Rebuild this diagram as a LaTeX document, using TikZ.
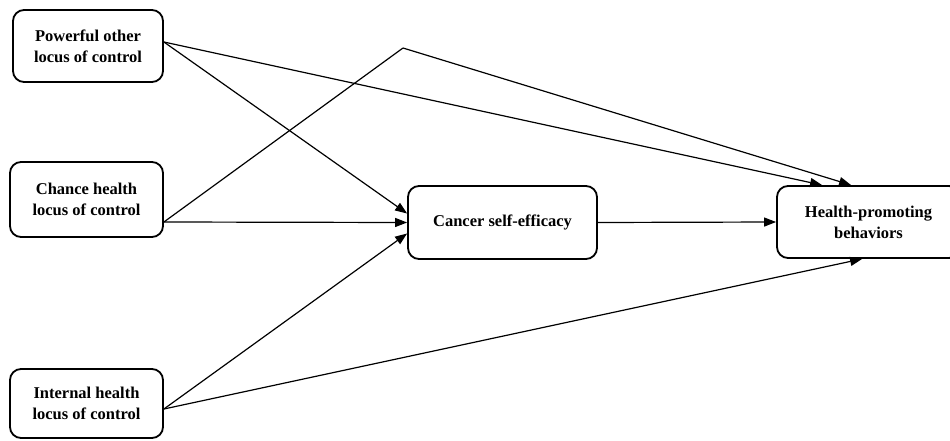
\documentclass[tikz,border=0pt]{standalone}
\usepackage{fontspec}
\setmainfont{Liberation Serif}
\usetikzlibrary{arrows.meta,calc}
\begin{document}
\begin{tikzpicture}[x=1pt,y=-1pt,
  box/.style={draw,line width=1.8pt,rounded corners=11pt,align=center,inner sep=0pt,
    font=\fontsize{16.5}{21}\selectfont\bfseries},
  link/.style={line width=1.2pt,-{Triangle[length=12pt,width=9pt]}},
  seg/.style={line width=1.2pt}]
\useasboundingbox (0,0) rectangle (950,441);
\node[box,minimum width=150pt,minimum height=72pt] (P) at (88,46) {Powerful other\\locus of control};
\node[box,minimum width=153pt,minimum height=75pt] (C) at (86.5,199.5) {Chance health\\locus of control};
\node[box,minimum width=153pt,minimum height=69pt] (I) at (86.5,403.5) {Internal health\\locus of control};
\node[box,minimum width=189pt,minimum height=73pt] (S) at (502.5,222.5) {Cancer self-efficacy};
\node[box,minimum width=183pt,minimum height=72pt] (H) at (868.5,222) {Health-promoting\\behaviors};
\coordinate (peak) at (403,48);
% Powerful other
\draw[link] ([yshift=4pt]P.east) -- ([yshift=9pt]S.west);
\draw[link] ([yshift=4pt]P.east) -- ([xshift=46pt]H.north west);
% Chance
\draw[link] ([yshift=-22.5pt]C.east) -- ([yshift=0pt]S.west);
\draw[seg] ([yshift=-22.5pt]C.east) -- (peak);
\draw[link] (peak) -- ([xshift=75pt]H.north west);
% Internal
\draw[link] ([yshift=-5.5pt]I.east) -- ([yshift=-11pt]S.west);
\draw[link] ([yshift=-5.5pt]I.east) -- ([xshift=86pt]H.south west);
% Cancer -> Health
\draw[link] (S.east) -- (H.west);
\end{tikzpicture}
\end{document}
